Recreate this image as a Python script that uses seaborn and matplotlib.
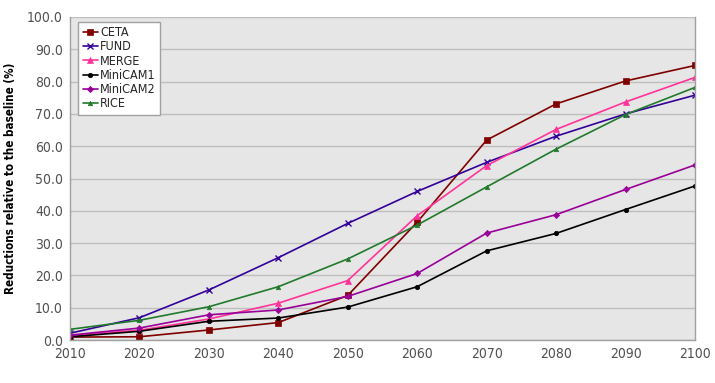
import matplotlib
matplotlib.use("Agg")
import matplotlib.pyplot as plt
import seaborn as sns
import pandas as pd

years = [2010, 2020, 2030, 2040, 2050, 2060, 2070, 2080, 2090, 2100]
ceta = [0.9, 1.0, 3.1, 5.4, 13.8, 36.5, 61.9, 73.1, 80.2, 85.0]
fund = [2.1, 6.9, 15.5, 25.5, 36.1, 46.0, 55.0, 63.1, 70.0, 75.8]
merge = [1.4, 3.0, 6.5, 11.4, 18.4, 38.5, 54.0, 65.2, 73.7, 81.3]
minicam1 = [1.0, 2.7, 5.8, 6.8, 10.2, 16.5, 27.6, 33.0, 40.4, 47.7]
minicam2 = [1.5, 3.7, 7.8, 9.3, 13.5, 20.6, 33.1, 38.8, 46.6, 54.2]
rice = [3.3, 6.1, 10.3, 16.5, 25.1, 35.6, 47.4, 59.1, 69.8, 78.2]

series_names = ["CETA", "FUND", "MERGE", "MiniCAM1", "MiniCAM2", "RICE"]
series_vals = [ceta, fund, merge, minicam1, minicam2, rice]
colors = ["#800000", "#330099", "#FF3399", "#000000", "#990099", "#217A2B"]
markers = ["s", "x", "^", "o", "D", "^"]
msizes = [4.0, 4.0, 4.0, 3.2, 3.2, 3.2]

y_ticks = [0, 10, 20, 30, 40, 50, 60, 70, 80, 90, 100]

sns.set_theme(style="whitegrid")
plt.rcParams["font.family"] = ["Liberation Sans Narrow", "DejaVu Sans"]
plt.rcParams["font.stretch"] = "condensed"

fig = plt.figure(figsize=(7.15, 3.83), dpi=100)
ax = fig.add_axes([70 / 715, 1 - 340 / 383, (695 - 70) / 715, (340 - 17) / 383])
ax.set_facecolor("#E6E6E6")

for name, vals, c, m, ms in zip(series_names, series_vals, colors, markers, msizes):
    df = pd.DataFrame({"year": years, "value": vals})
    sns.lineplot(data=df, x="year", y="value", ax=ax, color=c, marker=m,
                 markersize=ms, linewidth=1.2, label=name,
                 markeredgecolor=c, markeredgewidth=1.0 if m == "x" else 0.5)

ax.set_xlim(2010, 2100)
ax.set_ylim(0, 100)
ax.set_xticks(years)
ax.set_yticks(y_ticks)
ax.set_yticklabels([f"{v:.1f}" for v in y_ticks])
ax.set_xticklabels([str(y) for y in years])
ax.grid(axis="y", color="#BEBEBE", linewidth=1.0)
ax.grid(axis="x", visible=False)
for s in ["left", "bottom", "right"]:
    ax.spines[s].set_visible(True)
    ax.spines[s].set_color("#A0A0A0")
    ax.spines[s].set_linewidth(1.0)
ax.spines["top"].set_visible(False)
ax.tick_params(axis="both", labelsize=10, colors="#505050", length=3, width=0.8,
               direction="out", pad=2)
ax.tick_params(axis="both", color="#808080")
ax.set_xlabel("")
ax.set_ylabel("Reductions relative to the baseline (%)", fontsize=8.4,
              fontweight="bold", color="black")
ax.yaxis.set_label_coords(-0.085, 0.5)

leg = ax.legend(loc="upper left", bbox_to_anchor=(0.013, 0.985), frameon=True,
                fancybox=False, edgecolor="#A0A0A0", facecolor="white",
                framealpha=1.0, fontsize=9.0, handlelength=1.2, handletextpad=0.2,
                labelspacing=0.1, borderpad=0.35, borderaxespad=0)
leg.get_frame().set_linewidth(1.0)

fig.savefig("out.png", dpi=100)
